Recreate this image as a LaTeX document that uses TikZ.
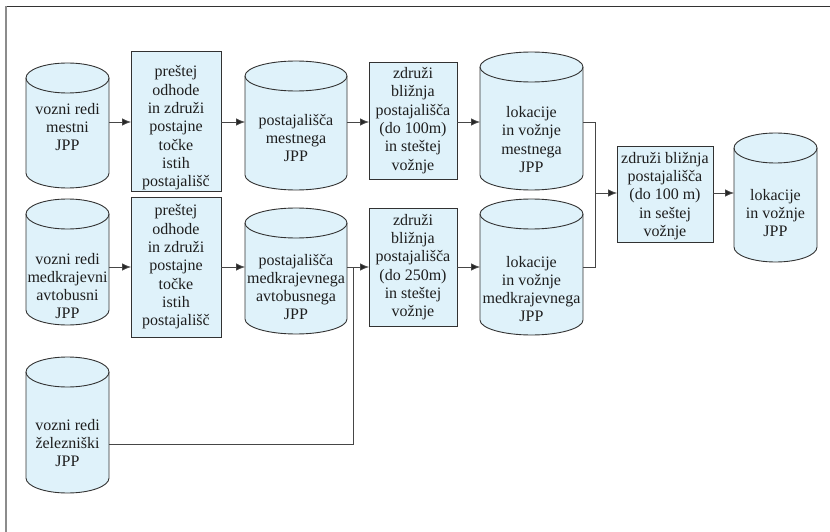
\documentclass[tikz,border=0pt]{standalone}
\usepackage{fontspec}
\setmainfont{Liberation Serif}
\usetikzlibrary{arrows.meta}
\definecolor{shapefill}{RGB}{223,242,250}
\definecolor{edgecol}{RGB}{50,50,50}
\definecolor{conncol}{RGB}{70,70,70}
\definecolor{txtcol}{RGB}{30,30,30}
\tikzset{
  shapebox/.style={draw=edgecol, fill=shapefill, line width=0.9pt, inner sep=0pt, outer sep=0pt},
  cylstyle/.style={draw=edgecol, fill=shapefill, line width=0.9pt, line join=round},
  cylline/.style={draw=edgecol, line width=0.9pt},
  region/.style={inner sep=0pt, outer sep=0pt},
  lbl/.style={font=\fontsize{16}{18.3}\selectfont, align=center, text=txtcol, inner sep=0pt},
  conn/.style={draw=conncol, line width=0.8pt},
  arr/.style={conn, -{Latex[length=9pt,width=7.5pt,fill=black!85]}},
}
% box: name, x1, y1, x2, y2 (pixel coordinates, y downwards)
\newcommand\mkbox[5]{%
  \node[shapebox, minimum width={(#4-#2)*1pt}, minimum height={(#5-#3)*1pt}]
    (#1) at ({(#2+#4)/2},{-(#3+#5)/2}) {};}
% cylinder: name, x1, y1, x2, y2
\newcommand\mkcyl[5]{%
  \node[region, minimum width={(#4-#2)*1pt}, minimum height={(#5-#3)*1pt}]
    (#1) at ({(#2+#4)/2},{-(#3+#5)/2}) {};
  \draw[cylstyle] ([yshift=-15pt]#1.north west) -- ([yshift=15pt]#1.south west)
    arc[start angle=180, end angle=360, x radius={(#4-#2)/2*1pt}, y radius=15pt]
    -- ([yshift=-15pt]#1.north east)
    arc[start angle=0, end angle=180, x radius={(#4-#2)/2*1pt}, y radius=15pt] -- cycle;
  \draw[cylline] ([yshift=-15pt]#1.north west)
    arc[start angle=180, end angle=360, x radius={(#4-#2)/2*1pt}, y radius=15pt];}
\begin{document}
\begin{tikzpicture}[x=1pt, y=1pt]
\useasboundingbox (0,0) rectangle (830,-532);
% frame
\draw[draw=black!80, line width=1.5pt] (5.5,-6.5) -- (830,-6.5);
\draw[draw=black!45, line width=2pt] (5.5,-6.5) -- (5.5,-532);

% shapes
\mkcyl{A1}{26}{63}{109}{188}
\mkbox{B1}{131}{51}{221}{191}
\mkcyl{C1}{245}{61}{347}{190}
\mkbox{D1}{369}{62}{457}{179}
\mkcyl{E1}{480}{52}{583}{190}

\mkcyl{A2}{26}{199}{109}{325}
\mkbox{B2}{131}{197}{221}{337}
\mkcyl{C2}{245}{208}{347}{334}
\mkbox{D2}{369}{208}{457}{326}
\mkcyl{E2}{480}{199}{583}{335}

\mkcyl{A3}{26}{357}{109}{493}

\mkbox{F}{617}{146}{713}{242}
\mkcyl{G}{734}{133}{817}{262}

% texts
\node[lbl] (A1t) at (67.5,-127) {vozni redi\\mestni\\JPP};
\node[lbl] (B1t) at (176,-128) {preštej\\odhode\\in združi\\postajne\\točke\\istih\\postajališč};
\node[lbl] (C1t) at (296,-138) {postajališča\\mestnega\\JPP};
\node[lbl] (D1t) at (413,-120.5) {združi\\bližnja\\postajališča\\(do 100m)\\in steštej\\vožnje};
\node[lbl] (E1t) at (531.5,-139.5) {lokacije\\in vožnje\\mestnega\\JPP};

\node[lbl] (A2t) at (67.5,-286) {vozni redi\\medkrajevni\\avtobusni\\JPP};
\node[lbl] (B2t) at (176,-267) {preštej\\odhode\\in združi\\postajne\\točke\\istih\\postajališč};
\node[lbl] (C2t) at (296,-287) {postajališča\\medkrajevnega\\avtobusnega\\JPP};
\node[lbl] (D2t) at (413,-267) {združi\\bližnja\\postajališča\\(do 250m)\\in steštej\\vožnje};
\node[lbl] (E2t) at (531.5,-289) {lokacije\\in vožnje\\medkrajevnega\\JPP};

\node[lbl] (A3t) at (67.5,-443) {vozni redi\\železniški\\JPP};

\node[lbl] (Ft) at (665,-196) {združi bližnja\\postajališča\\(do 100 m)\\in seštej\\vožnje};
\node[lbl] (Gt) at (775.5,-213) {lokacije\\in vožnje\\JPP};

% connector rows and columns
\coordinate (r1) at (0,-122);
\coordinate (r2) at (0,-267);
\coordinate (r3) at (0,-444);
\coordinate (rm) at (0,-193);
\coordinate (jx) at (595,0);
\coordinate (rx) at (353,0);

\draw[arr] (A1.east |- r1) -- (B1.west |- r1);
\draw[arr] (B1.east |- r1) -- (C1.west |- r1);
\draw[arr] (C1.east |- r1) -- (D1.west |- r1);
\draw[arr] (D1.east |- r1) -- (E1.west |- r1);

\draw[arr] (A2.east |- r2) -- (B2.west |- r2);
\draw[arr] (B2.east |- r2) -- (C2.west |- r2);
\draw[arr] (C2.east |- r2) -- (D2.west |- r2);
\draw[arr] (D2.east |- r2) -- (E2.west |- r2);

\draw[conn] (A3.east |- r3) -- (rx |- r3) -- (rx |- r2);

\draw[conn] (E1.east |- r1) -- (jx |- r1) -- (jx |- r2) -- (E2.east |- r2);
\draw[arr] (jx |- rm) -- (F.west |- rm);
\draw[arr] (F.east |- rm) -- (G.west |- rm);
\end{tikzpicture}
\end{document}
